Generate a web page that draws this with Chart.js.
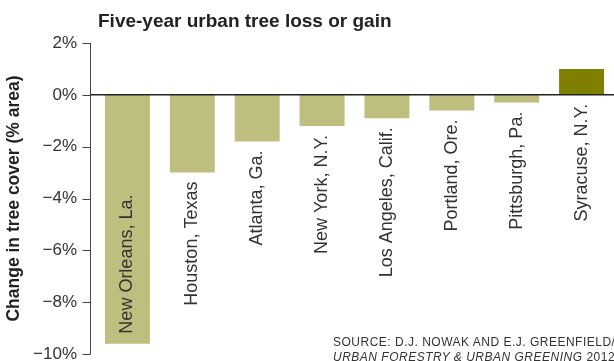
<!DOCTYPE html>
<html>
<head>
  <meta charset="utf-8">
  <title>Urban tree cover</title>
  <script src="https://cdn.jsdelivr.net/npm/chart.js"></script>
  <style>
    html, body { margin: 0; padding: 0; background: #fff; overflow: hidden; }
    #wrap { position: relative; width: 614px; height: 361px; }
    #head {
      position: absolute; left: 98px; top: 11px;
      font: bold 19px "Liberation Sans", Arial, sans-serif; line-height: 19px;
      color: #222; white-space: nowrap;
    }
    #source {
      position: absolute; left: 333px; top: 335px;
      font: 12px "Liberation Sans", Arial, sans-serif; line-height: 15px;
      letter-spacing: 0.5px; color: #333; white-space: nowrap;
    }
  </style>
</head>
<body>
<div id="wrap">
  <canvas id="tree-chart" width="614" height="361"></canvas>
  <div id="head">Five-year urban tree loss or gain</div>
  <div id="source">SOURCE: D.J. NOWAK AND E.J. GREENFIELD/<br><i>URBAN FORESTRY &amp; URBAN GREENING</i> 2012</div>
</div>

<script>
var cities = ['New Orleans, La.', 'Houston, Texas', 'Atlanta, Ga.', 'New York, N.Y.',
              'Los Angeles, Calif.', 'Portland, Ore.', 'Pittsburgh, Pa.', 'Syracuse, N.Y.'];
var change = [-9.6, -3.0, -1.8, -1.2, -0.9, -0.6, -0.3, 1.0];
var yMin = -10, yMax = 2, yStep = 2;

var lossColor = '#bebe7e', gainColor = '#7f7f00';

// axis line with outside ticks, plus the heavier zero line
var axisLines = {
  id: 'axisLines',
  afterDatasetsDraw: function(chart) {
    var ctx = chart.ctx, area = chart.chartArea, y = chart.scales.y;
    var ax = area.left - 4.5;
    ctx.save();
    ctx.strokeStyle = '#444';
    ctx.lineWidth = 1;
    ctx.beginPath();
    ctx.moveTo(ax, y.getPixelForValue(yMax));
    ctx.lineTo(ax, y.getPixelForValue(yMin) + 0.5);
    y.ticks.forEach(function(t) {
      var py = Math.round(y.getPixelForValue(t.value)) + 0.5;
      ctx.moveTo(ax - 8, py);
      ctx.lineTo(ax, py);
    });
    ctx.stroke();
    ctx.strokeStyle = '#222';
    ctx.lineWidth = 1.5;
    ctx.beginPath();
    var z = y.getPixelForValue(0);
    ctx.moveTo(ax, z);
    ctx.lineTo(area.right, z);
    ctx.stroke();
    ctx.restore();
  }
};

// city names run upward under each bar; inside the bar when it reaches the bottom
var barLabels = {
  id: 'barLabels',
  afterDatasetsDraw: function(chart) {
    var ctx = chart.ctx, area = chart.chartArea;
    var bars = chart.getDatasetMeta(0).data;
    ctx.save();
    ctx.font = '18px "Liberation Sans", Arial, sans-serif';
    ctx.fillStyle = '#333';
    ctx.textBaseline = 'middle';
    bars.forEach(function(bar, i) {
      var name = cities[i];
      var w = ctx.measureText(name).width;
      var low = Math.max(bar.y, bar.base);
      ctx.save();
      if (low + 9 + w > area.bottom) {
        ctx.translate(bar.x, low - 10);
        ctx.rotate(-Math.PI / 2);
        ctx.textAlign = 'left';
      } else {
        ctx.translate(bar.x, low + 9);
        ctx.rotate(-Math.PI / 2);
        ctx.textAlign = 'right';
      }
      ctx.fillText(name, 0, 0);
      ctx.restore();
    });
    ctx.restore();
  }
};

new Chart(document.getElementById('tree-chart'), {
  type: 'bar',
  data: {
    labels: cities,
    datasets: [{
      data: change,
      backgroundColor: change.map(function(v) { return v < 0 ? lossColor : gainColor; }),
      categoryPercentage: 1,
      barPercentage: 0.693
    }]
  },
  options: {
    responsive: false,
    animation: false,
    layout: { padding: { top: 43, bottom: 7, left: 0, right: 0 } },
    plugins: { legend: { display: false }, tooltip: { enabled: false } },
    scales: {
      x: { display: false },
      y: {
        min: yMin, max: yMax,
        afterFit: function(s) {
          s.width = 95;
          // let the end labels hang past the plot edges
          s.paddingTop = 0;
          s.paddingBottom = 0;
        },
        grid: { display: false, drawTicks: false },
        border: { display: false },
        ticks: {
          stepSize: yStep,
          padding: 18,
          color: '#333',
          font: { family: '"Liberation Sans", Arial, sans-serif', size: 17 },
          callback: function(v) { return (v < 0 ? '\u2212' + Math.abs(v) : v) + '%'; }
        },
        title: {
          display: true,
          text: 'Change in tree cover (% area)',
          color: '#222',
          padding: { top: 4, bottom: 0 },
          font: { family: '"Liberation Sans", Arial, sans-serif', size: 17.5, weight: 'bold' }
        }
      }
    }
  },
  plugins: [axisLines, barLabels]
});
</script>
</body>
</html>
